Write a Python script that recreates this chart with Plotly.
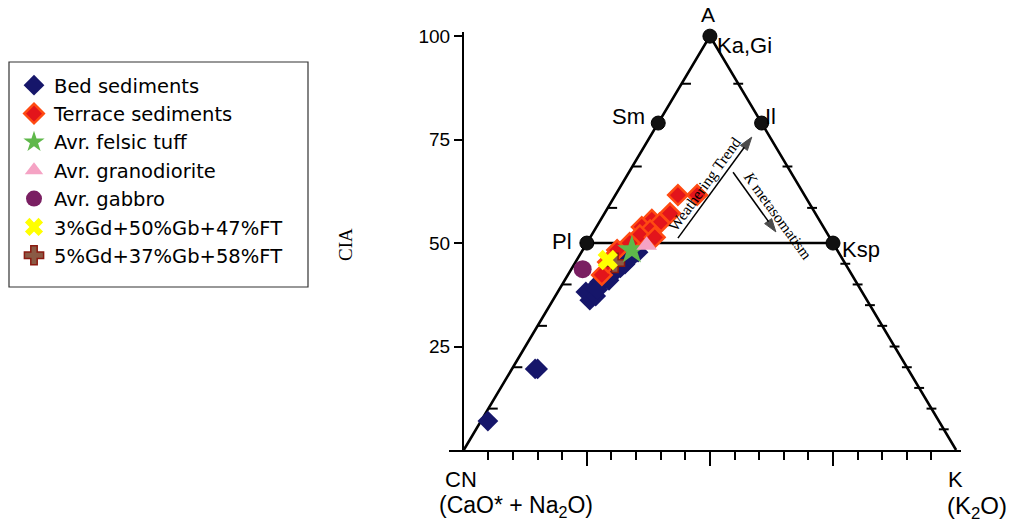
import plotly.graph_objects as go

# ---- data (A = CIA, K = K2O apex share; CN = 100 - A - K) ----
bed_A = [7.0, 19.6, 19.6, 36.2, 38.2, 39.1, 40.6, 41.5, 42.5, 43.7, 44.9, 46.4, 47.8, 37.2, 38.8, 41.0, 44.0]
bed_K = [1.4, 4.7, 5.2, 7.5, 5.7, 6.9, 7.3, 8.1, 8.8, 9.4, 10.3, 10.7, 11.5, 8.2, 7.8, 9.0, 9.8]

ter_A = [61.6, 61.6, 57.2, 55.6, 54.8, 53.9, 53.1, 51.9, 51.4, 48.3, 42.3, 50.0, 45.4]
ter_K = [12.7, 16.6, 13.3, 10.4, 12.4, 9.2, 11.3, 9.8, 13.1, 7.0, 6.9, 8.7, 6.6]

tuff_A, tuff_K = [48.3], [10.0]
grano_A, grano_K = [49.5], [12.4]
gabbro_A, gabbro_K = [43.7], [2.3]
mix1_A, mix1_K = [45.9], [6.3]
mix2_A, mix2_K = [45.2], [8.1]

# reference minerals (A, K)
min_names = ["Ka,Gi", "Sm", "Il", "Pl", "Ksp"]
min_A = [100, 79, 79, 50, 50]
min_K = [0, 0, 21, 0, 50]

# trend arrows (tail -> head), in (A, K)
weather_A, weather_K = [51.2, 75.6], [17.9, 20.7]
kmeta_A, kmeta_K = [67.1, 52.7], [21.15, 37.05]

# edge tick positions (A values)
left_ticks = [10, 20, 30, 40, 58.5, 68.5, 88.5]
right_ticks = [5, 10, 15, 20, 25, 30, 35, 40, 45, 58.5, 68.5, 88.5]
base_major = [25, 50, 75]
base_minor = [5, 10, 15, 20, 30, 35, 40, 45, 55, 60, 65, 70, 80, 85, 90, 95]
cia_ticks = [25, 50, 75, 100]


def px(A, K):
    return [k + a / 2 for a, k in zip(A, K)]


ARIAL = "Arial, Liberation Sans, sans-serif"
TIMES = "Times New Roman, Liberation Serif, serif"

# figure geometry (page body margin removed via post_script)
W, H = 1024, 524
ML, MT, PW, PH = 449, 32, 512, 418


def pxx(fx):  # figure pixel -> paper x
    return (fx - ML) / PW


def pxy(fy):  # figure pixel -> paper y
    return (MT + PH - fy) / PH


fig = go.Figure()

# triangle outline
fig.add_trace(go.Scatter(x=[0, 50, 100], y=[0, 100, 0], mode="lines",
                         line=dict(color="black", width=2.6), showlegend=False,
                         hoverinfo="skip"))
# Pl - Ksp join
fig.add_trace(go.Scatter(x=px([50, 50], [0, 50]), y=[50, 50], mode="lines",
                         line=dict(color="black", width=2.6), showlegend=False,
                         hoverinfo="skip"))

# edge ticks
tx, ty = [], []
for a in left_ticks:
    tx += [a / 2, a / 2 + 1.9, None]
    ty += [a, a, None]
for a in right_ticks:
    tx += [100 - a / 2 - 1.0, 100 - a / 2 + 1.0, None]
    ty += [a, a, None]
fig.add_trace(go.Scatter(x=tx, y=ty, mode="lines", line=dict(color="black", width=2),
                         showlegend=False, hoverinfo="skip"))

# trend arrows
for aA, aK in [(weather_A, weather_K), (kmeta_A, kmeta_K)]:
    fig.add_trace(go.Scatter(x=px(aA, aK), y=aA, mode="lines+markers",
                             line=dict(color="black", width=1.5),
                             marker=dict(symbol="arrow", size=[0, 14], color="black",
                                         line=dict(color="black", width=1),
                                         angleref="previous", standoff=0),
                             showlegend=False, hoverinfo="skip", cliponaxis=False))

# data series
fig.add_trace(go.Scatter(x=px(bed_A, bed_K), y=bed_A, mode="markers", name="Bed sediments",
                         marker=dict(symbol="diamond", size=16, color="#16166a"),
                         cliponaxis=False, legendrank=1))
fig.add_trace(go.Scatter(x=px(ter_A, ter_K), y=ter_A, mode="markers", name="Terrace sediments",
                         marker=dict(symbol="diamond", size=15, color="#e3141b",
                                     line=dict(color="#ff4a12", width=2.5)),
                         cliponaxis=False, legendrank=2))
fig.add_trace(go.Scatter(x=px(gabbro_A, gabbro_K), y=gabbro_A, mode="markers", name="Avr. gabbro",
                         marker=dict(symbol="circle", size=18, color="#7a1f62"),
                         cliponaxis=False, legendrank=5))
fig.add_trace(go.Scatter(x=px(mix2_A, mix2_K), y=mix2_A, mode="markers", name="5%Gd+37%Gb+58%FT",
                         marker=dict(symbol="cross", size=16, color="#8a5a45",
                                     line=dict(color="#8b1a10", width=1.5)),
                         cliponaxis=False, legendrank=7))
fig.add_trace(go.Scatter(x=px(mix1_A, mix1_K), y=mix1_A, mode="markers", name="3%Gd+50%Gb+47%FT",
                         marker=dict(symbol="x", size=18, color="#ffff00"),
                         cliponaxis=False, legendrank=6))
fig.add_trace(go.Scatter(x=px(tuff_A, tuff_K), y=tuff_A, mode="markers", name="Avr. felsic tuff",
                         marker=dict(symbol="star", size=22, color="#5fb84a"),
                         cliponaxis=False, legendrank=3))
fig.add_trace(go.Scatter(x=px(grano_A, grano_K), y=grano_A, mode="markers", name="Avr. granodiorite",
                         marker=dict(symbol="triangle-up", size=18, color="#f5a3c4"),
                         cliponaxis=False, legendrank=4))

# mineral points
fig.add_trace(go.Scatter(x=px(min_A, min_K), y=min_A, mode="markers",
                         marker=dict(symbol="circle", size=14, color="#111111",
                                     line=dict(color="black", width=1)),
                         cliponaxis=False, showlegend=False, hoverinfo="skip"))

ann = []


def lab(text, x, y, xs=0, ys=0, xa="center", ya="middle", size=22, font=ARIAL, angle=0):
    ann.append(dict(text=text, x=x, y=y, xref="x", yref="y", xshift=xs, yshift=ys,
                    xanchor=xa, yanchor=ya, showarrow=False, textangle=angle,
                    font=dict(family=font, size=size, color="black")))


mx = px(min_A, min_K)
lab("A", 50, 100, xs=-2, ys=8, ya="bottom", size=21)
lab("Ka,Gi", mx[0], min_A[0], xs=5, ys=-9, xa="left")
lab("Sm", mx[1], min_A[1], xs=-11, ys=7, xa="right")
lab("Il", mx[2], min_A[2], xs=1, ys=7, xa="left")
lab("Pl", mx[3], min_A[3], xs=-13, ys=2, xa="right")
lab("Ksp", mx[4], min_A[4], xs=7, ys=-6, xa="left")
lab("CN", 0, 0, xs=-3, ys=-15, ya="top")
lab("(CaO* + Na<sub>2</sub>O)", 0, 0, xs=-27, ys=-40, xa="left", ya="top", size=23)
lab("K", 100, 0, xs=-1, ys=-15, ya="top")
lab("(K<sub>2</sub>O)", 100, 0, xs=-11, ys=-40, xa="left", ya="top", size=24)
lab("Weathering Trend", 48.8, 64.2, size=15.5, font=TIMES, angle=-54)
lab("<i>K</i> metasomatism", 63.8, 56.6, size=15.5, font=TIMES, angle=54)

# CIA axis title
ann.append(dict(text="CIA", x=pxx(345), y=pxy(245), xref="paper", yref="paper", showarrow=False,
                xanchor="center", yanchor="middle",
                textangle=-90, font=dict(family=TIMES, size=19, color="black")))

# legend frame
shapes = [dict(type="rect", xref="paper", yref="paper", x0=pxx(9), x1=pxx(308),
               y0=pxy(287), y1=pxy(62), line=dict(color="#333333", width=1.2),
               fillcolor="rgba(0,0,0,0)")]

fig.update_layout(
    width=W, height=H,
    margin=dict(l=ML, r=W - ML - PW, t=MT, b=H - MT - PH),
    paper_bgcolor="white", plot_bgcolor="white",
    annotations=ann, shapes=shapes,
    showlegend=True,
    legend=dict(x=pxx(14), y=pxy(66), xanchor="left", yanchor="top",
                borderwidth=0, bgcolor="rgba(0,0,0,0)",
                font=dict(family="DejaVu Sans, sans-serif", size=19.5, color="black"),
                tracegroupgap=0),
    xaxis=dict(range=[-3, 101], showgrid=False, zeroline=False, showline=True,
               linecolor="black", linewidth=2, ticks="outside", tickvals=base_major,
               ticklen=14, tickwidth=2, tickcolor="black", showticklabels=False,
               minor=dict(tickvals=base_minor, ticklen=8, tickwidth=2, tickcolor="black",
                          ticks="outside")),
    yaxis=dict(range=[0, 101], showgrid=False, zeroline=False, showline=True,
               linecolor="black", linewidth=2, ticks="outside", tickvals=cia_ticks,
               ticklen=8, tickwidth=2, tickcolor="black", anchor="free", position=pxx(463),
               tickfont=dict(family=ARIAL, size=19, color="black")),
)

fig.write_html("out.html", config={"displayModeBar": False},
               post_script="document.body.style.margin='0';document.body.style.overflow='hidden';")
